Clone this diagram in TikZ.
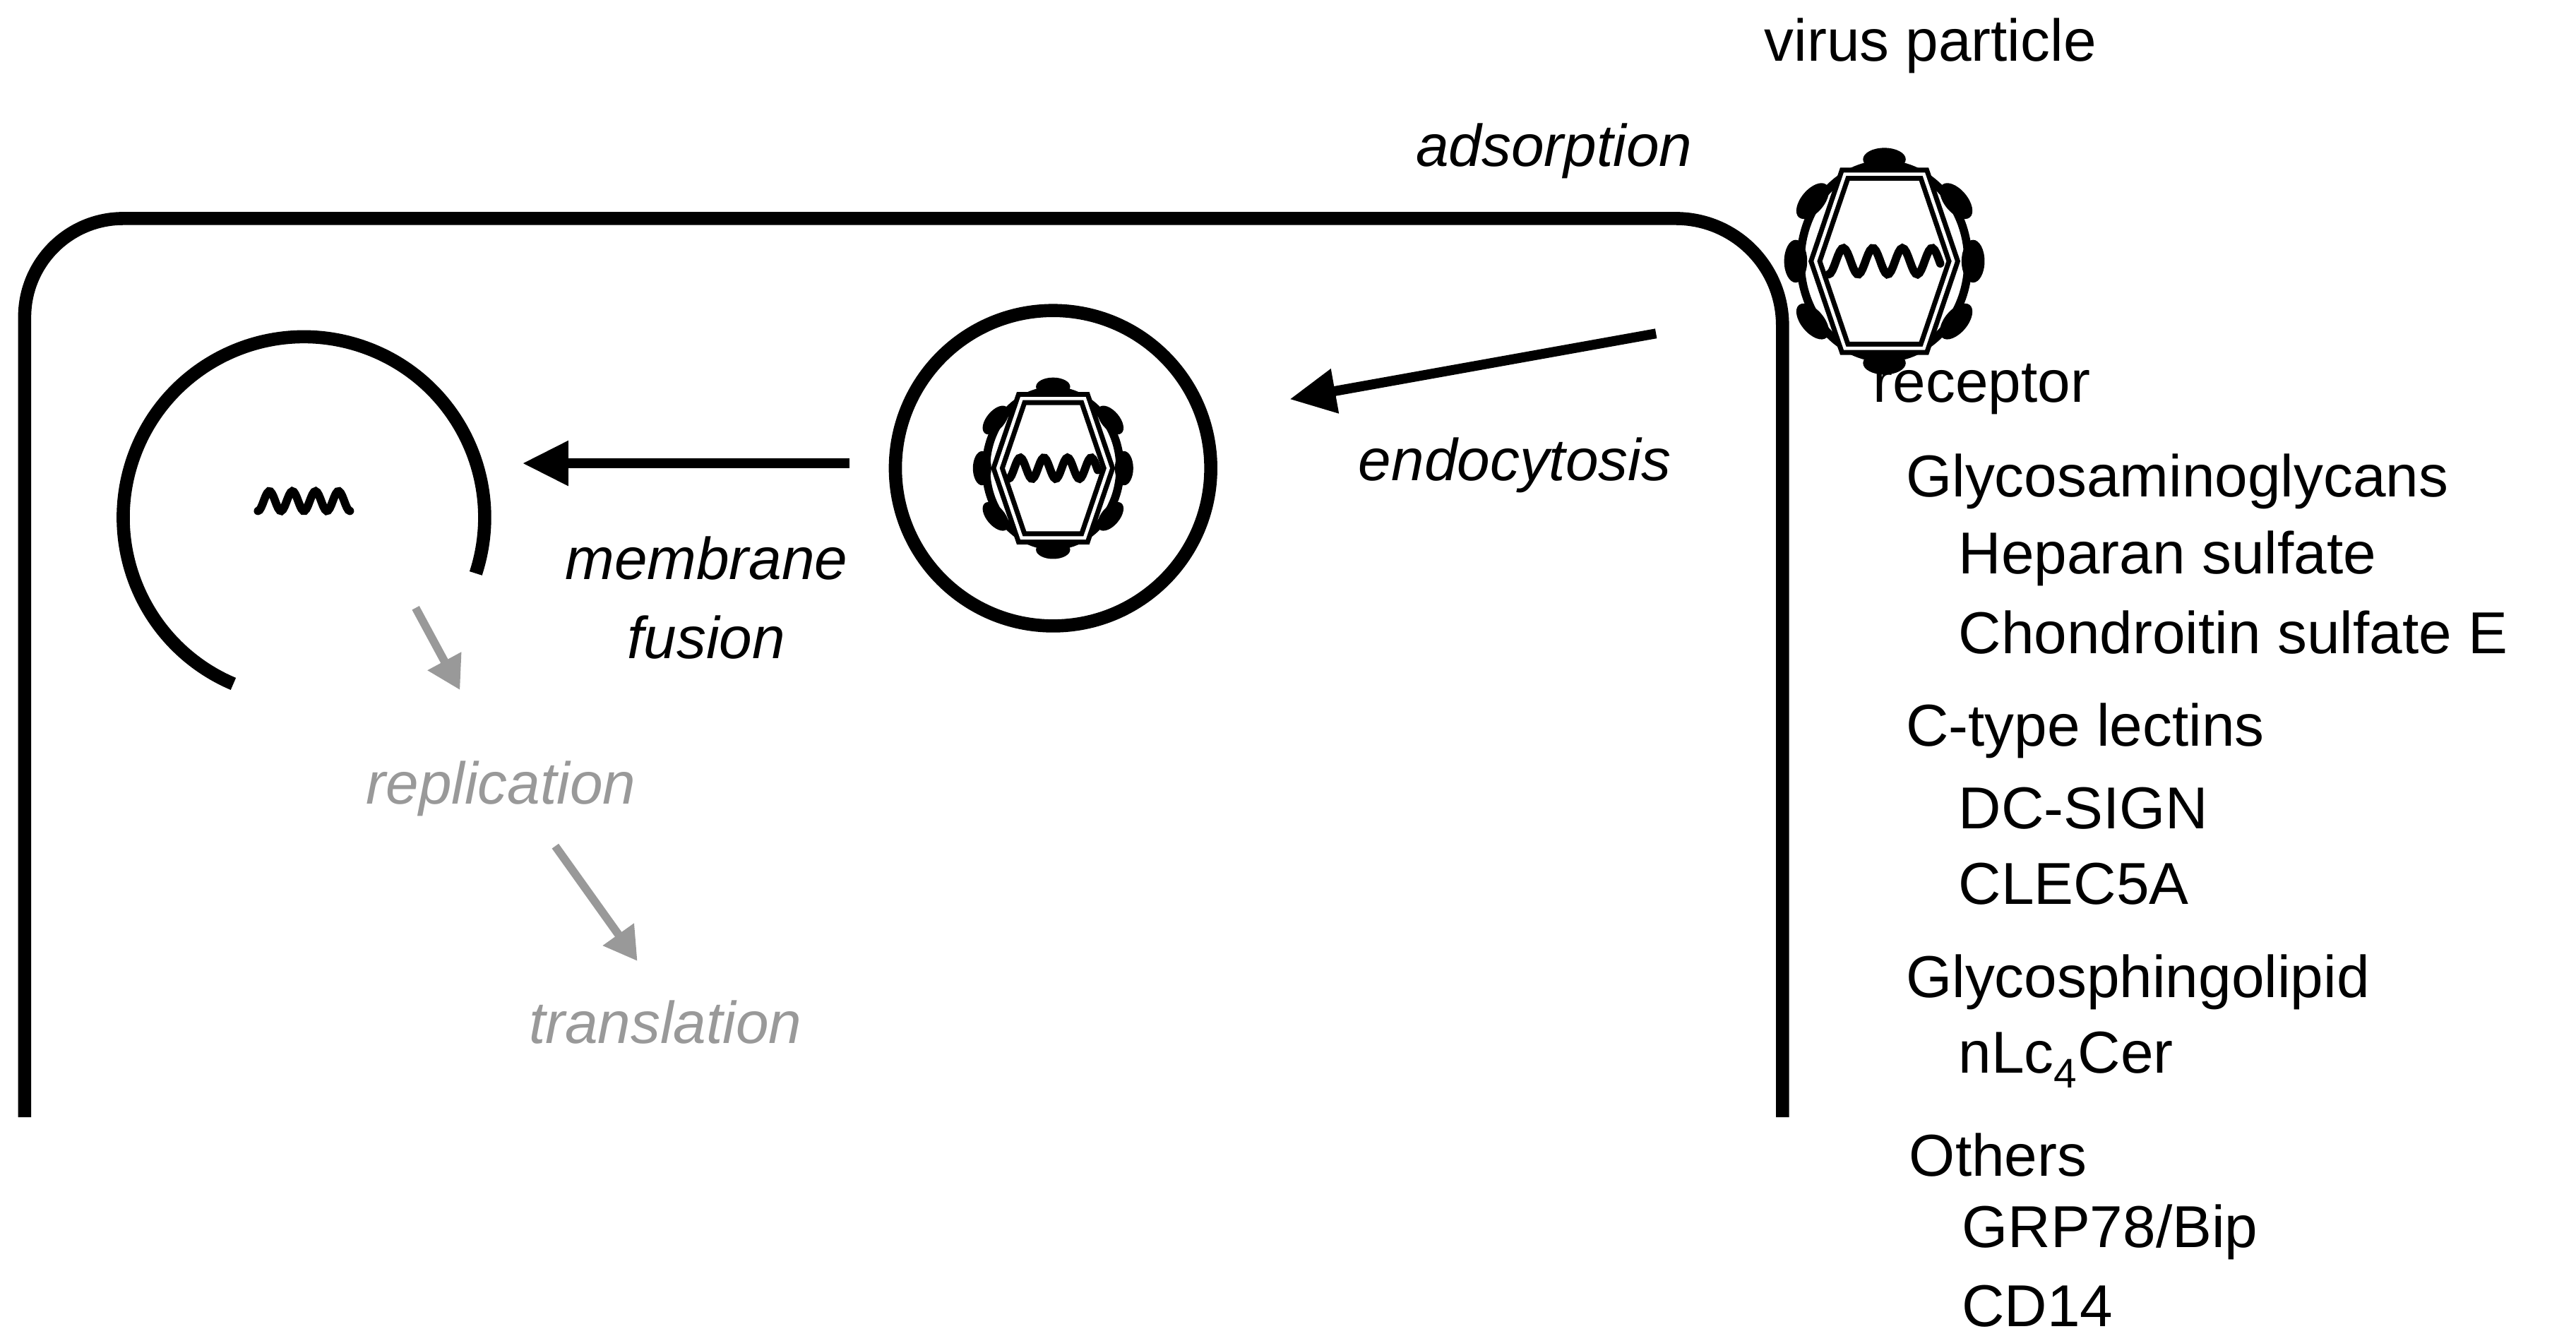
\documentclass[tikz,border=0pt]{standalone}
\usepackage{fontspec}
\setmainfont{Liberation Sans}
\usetikzlibrary{arrows.meta}
\begin{document}
\begin{tikzpicture}[x=1pt,y=1pt,
  lbl/.style={font=\fontsize{36}{40}\selectfont, anchor=west, inner sep=0},
  ital/.style={font=\fontsize{36}{40}\selectfont\itshape, inner sep=0},
  memb/.style={line width=8pt},
  bigarrow/.style={line width=6pt, -{Triangle[length=28pt,width=26pt]}},
  grayarrow/.style={line width=5pt, draw=gray!80, -{Triangle[length=20pt,width=22pt]}},
  receptor/.style={fill=gray!90!white, draw=none},
  virus/.pic={
    \foreach \a/\r in {90/62,270/62,0/54,180/54,40/57,140/57,220/57,320/57}
      \fill[rotate=\a] (\r,0) ellipse (7 and 13);
    \draw[line width=5pt] (0,0) ellipse (51 and 59);
    \draw[white,line width=1.5pt] (0,0) ellipse (45 and 53);
    \draw[line width=8pt,line join=miter] (-24,53)--(24,53)--(42,0)--(24,-53)--(-24,-53)--(-42,0)--cycle;
    \draw[white,line width=2pt,line join=miter] (-24,53)--(24,53)--(42,0)--(24,-53)--(-24,-53)--(-42,0)--cycle;
    \draw[line width=5pt,line cap=round] plot[domain=-34:34,samples=60] (\x,{8*sin(20*(\x+34)-90)});
  }]
\useasboundingbox (0,0) rectangle (1568,-816);
% cell membrane
\draw[memb] (15,-680) -- (15,-193) arc (180:90:60) -- (1020,-133) arc (90:0:65) -- (1085,-680);
% receptors
\foreach \n/\p/\a in {r1/{(1045,-150)}/40, r2/{(1078,-186)}/25, r3/{(1110,-234)}/0}{
  \coordinate (\n) at \p;
  \fill[receptor,shift={\p},rotate=\a] (-16,-14) -- (14,-18) -- (6,0) -- (14,18) -- (-16,14) -- cycle;
}
% virus particle
\pic (v1) at (1147,-159) {virus};
% vesicle
\draw[memb] (641,-285) circle (96);
\pic[scale=0.8] (v2) at (641,-285) {virus};
\coordinate (ves) at (641,-285);
% fused vesicle
\draw[memb] (185,-315) ++(-18:110) arc (-18:247:110);
\draw[line width=5pt,line cap=round] plot[domain=-28:28,samples=60] ({185+\x},{-305+6*sin(25.7*(\x+28)-90)});
% arrows
\coordinate (e1) at (1008,-203); \coordinate (e2) at (785,-243);
\draw[bigarrow] (e1) -- (e2);
\coordinate (m1) at (517,-282); \coordinate (m2) at (318,-282);
\draw[bigarrow] (m1) -- (m2);
\coordinate (g1) at (253,-370); \coordinate (g2) at (280,-420);
\draw[grayarrow] (g1) -- (g2);
\coordinate (g3) at (338,-515); \coordinate (g4) at (388,-585);
\draw[grayarrow] (g3) -- (g4);
% texts
\node[ital] (ads) at (946,-92) {adsorption};
\node[font=\fontsize{36}{40}\selectfont, inner sep=0] (vp) at (1175,-28) {virus particle};
\node[ital] (endo) at (922,-283) {endocytosis};
\node[ital] (mf1) at (430,-340) {membrane};
\node[ital] (mf2) at (430,-388) {fusion};
\node[ital,text=gray!80] (rep) at (305,-480) {replication};
\node[ital,text=gray!80] (tra) at (405,-622) {translation};
\node[lbl] (rec) at (1140,-237) {receptor};
\node[lbl] (t1) at (1160,-293) {Glycosaminoglycans};
\node[lbl] (t2) at (1192,-340) {Heparan sulfate};
\node[lbl] (t3) at (1192,-385) {Chondroitin sulfate E};
\node[lbl] (t4) at (1160,-445) {C-type lectins};
\node[lbl] (t5) at (1192,-492) {DC-SIGN};
\node[lbl] (t6) at (1192,-538) {CLEC5A};
\node[lbl] (t7) at (1160,-598) {Glycosphingolipid};
\node[lbl] (t8) at (1192,-645) {nLc\textsubscript{4}Cer};
\node[lbl] (t9) at (1162,-703) {Others};
\node[lbl] (t10) at (1194,-750) {GRP78/Bip};
\node[lbl] (t11) at (1194,-795) {CD14};
\end{tikzpicture}
\end{document}
